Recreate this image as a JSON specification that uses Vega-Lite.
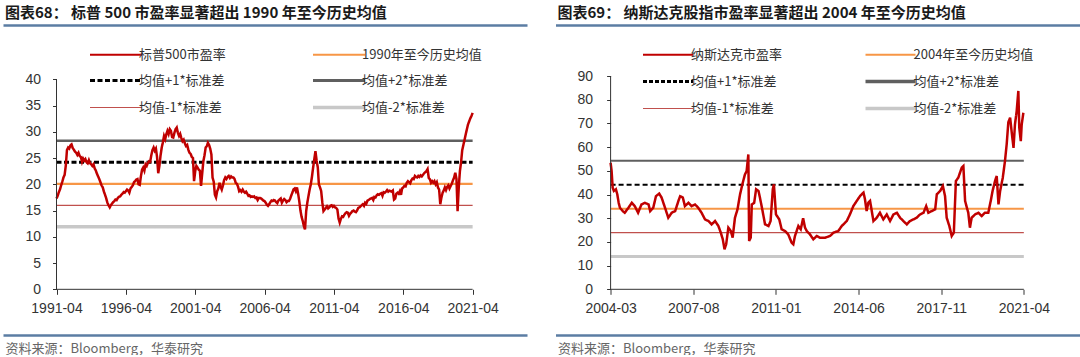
{
  "$schema": "https://vega.github.io/schema/vega-lite/v6.json",
  "padding": {"left": 3, "top": 6, "right": 0, "bottom": 0},
  "background": "white",
  "config": {
    "view": {"stroke": null},
    "font": "Liberation Sans",
    "concat": {"spacing": 28.5},
    "axisY": {"labelOverlap": false},
    "axisX": {"labelOverlap": false}
  },
  "resolve": {
    "scale": {"color": "independent", "strokeDash": "independent", "strokeWidth": "independent"},
    "legend": {"color": "independent"}
  },
  "datasets": {
    "sph": [
      {"d":"1991-04","s":"1990年至今历史均值","v":20.1},{"d":"2021-04","s":"1990年至今历史均值","v":20.1},
      {"d":"1991-04","s":"均值+1*标准差","v":24.2},{"d":"2021-04","s":"均值+1*标准差","v":24.2},
      {"d":"1991-04","s":"均值+2*标准差","v":28.3},{"d":"2021-04","s":"均值+2*标准差","v":28.3},
      {"d":"1991-04","s":"均值-1*标准差","v":16.0},{"d":"2021-04","s":"均值-1*标准差","v":16.0},
      {"d":"1991-04","s":"均值-2*标准差","v":11.9},{"d":"2021-04","s":"均值-2*标准差","v":11.9}
    ],
    "nqh": [
      {"d":"2004-03","s":"2004年至今历史均值","v":34.0},{"d":"2021-04","s":"2004年至今历史均值","v":34.0},
      {"d":"2004-03","s":"均值+1*标准差","v":44.1},{"d":"2021-04","s":"均值+1*标准差","v":44.1},
      {"d":"2004-03","s":"均值+2*标准差","v":54.2},{"d":"2021-04","s":"均值+2*标准差","v":54.2},
      {"d":"2004-03","s":"均值-1*标准差","v":23.9},{"d":"2021-04","s":"均值-1*标准差","v":23.9},
      {"d":"2004-03","s":"均值-2*标准差","v":13.8},{"d":"2021-04","s":"均值-2*标准差","v":13.8}
    ],
    "sp": [
      {"d":"1991-04","s":"标普500市盈率","v":17.3},{"d":"1991-05","s":"标普500市盈率","v":17.8},{"d":"1991-06","s":"标普500市盈率","v":18.5},{"d":"1991-07","s":"标普500市盈率","v":19.0},{"d":"1991-08","s":"标普500市盈率","v":19.8},{"d":"1991-09","s":"标普500市盈率","v":20.5},{"d":"1991-10","s":"标普500市盈率","v":21.3},{"d":"1991-11","s":"标普500市盈率","v":21.8},{"d":"1991-12","s":"标普500市盈率","v":23.5},
      {"d":"1992-01","s":"标普500市盈率","v":26.5},{"d":"1992-02","s":"标普500市盈率","v":27.0},{"d":"1992-03","s":"标普500市盈率","v":26.8},{"d":"1992-04","s":"标普500市盈率","v":27.4},{"d":"1992-05","s":"标普500市盈率","v":27.6},{"d":"1992-06","s":"标普500市盈率","v":26.9},{"d":"1992-07","s":"标普500市盈率","v":26.6},{"d":"1992-08","s":"标普500市盈率","v":26.2},{"d":"1992-09","s":"标普500市盈率","v":26.0},{"d":"1992-10","s":"标普500市盈率","v":25.6},{"d":"1992-11","s":"标普500市盈率","v":26.0},{"d":"1992-12","s":"标普500市盈率","v":25.4},
      {"d":"1993-01","s":"标普500市盈率","v":25.2},{"d":"1993-02","s":"标普500市盈率","v":24.3},{"d":"1993-03","s":"标普500市盈率","v":24.9},{"d":"1993-04","s":"标普500市盈率","v":24.5},{"d":"1993-05","s":"标普500市盈率","v":24.8},{"d":"1993-06","s":"标普500市盈率","v":24.2},{"d":"1993-07","s":"标普500市盈率","v":24.0},{"d":"1993-08","s":"标普500市盈率","v":24.6},{"d":"1993-09","s":"标普500市盈率","v":24.0},{"d":"1993-10","s":"标普500市盈率","v":23.8},{"d":"1993-11","s":"标普500市盈率","v":23.5},{"d":"1993-12","s":"标普500市盈率","v":23.8},
      {"d":"1994-01","s":"标普500市盈率","v":23.0},{"d":"1994-02","s":"标普500市盈率","v":22.6},{"d":"1994-03","s":"标普500市盈率","v":22.0},{"d":"1994-04","s":"标普500市盈率","v":21.5},{"d":"1994-05","s":"标普500市盈率","v":21.0},{"d":"1994-06","s":"标普500市盈率","v":20.4},{"d":"1994-07","s":"标普500市盈率","v":19.8},{"d":"1994-08","s":"标普500市盈率","v":19.4},{"d":"1994-09","s":"标普500市盈率","v":18.6},{"d":"1994-10","s":"标普500市盈率","v":18.0},{"d":"1994-11","s":"标普500市盈率","v":17.3},{"d":"1994-12","s":"标普500市盈率","v":16.5},
      {"d":"1995-01","s":"标普500市盈率","v":16.0},{"d":"1995-02","s":"标普500市盈率","v":15.6},{"d":"1995-03","s":"标普500市盈率","v":16.0},{"d":"1995-04","s":"标普500市盈率","v":16.3},{"d":"1995-05","s":"标普500市盈率","v":16.6},{"d":"1995-06","s":"标普500市盈率","v":16.8},{"d":"1995-07","s":"标普500市盈率","v":17.1},{"d":"1995-08","s":"标普500市盈率","v":17.0},{"d":"1995-09","s":"标普500市盈率","v":17.4},{"d":"1995-10","s":"标普500市盈率","v":17.6},{"d":"1995-11","s":"标普500市盈率","v":17.7},{"d":"1995-12","s":"标普500市盈率","v":18.0},
      {"d":"1996-01","s":"标普500市盈率","v":18.2},{"d":"1996-02","s":"标普500市盈率","v":18.5},{"d":"1996-03","s":"标普500市盈率","v":18.4},{"d":"1996-04","s":"标普500市盈率","v":18.7},{"d":"1996-05","s":"标普500市盈率","v":19.0},{"d":"1996-06","s":"标普500市盈率","v":18.8},{"d":"1996-07","s":"标普500市盈率","v":18.4},{"d":"1996-08","s":"标普500市盈率","v":19.2},{"d":"1996-09","s":"标普500市盈率","v":19.5},{"d":"1996-10","s":"标普500市盈率","v":19.8},{"d":"1996-11","s":"标普500市盈率","v":20.4},{"d":"1996-12","s":"标普500市盈率","v":20.6},
      {"d":"1997-01","s":"标普500市盈率","v":20.9},{"d":"1997-02","s":"标普500市盈率","v":21.0},{"d":"1997-03","s":"标普500市盈率","v":20.0},{"d":"1997-04","s":"标普500市盈率","v":19.9},{"d":"1997-05","s":"标普500市盈率","v":21.5},{"d":"1997-06","s":"标普500市盈率","v":22.8},{"d":"1997-07","s":"标普500市盈率","v":23.2},{"d":"1997-08","s":"标普500市盈率","v":22.6},{"d":"1997-09","s":"标普500市盈率","v":23.8},{"d":"1997-10","s":"标普500市盈率","v":23.5},{"d":"1997-11","s":"标普500市盈率","v":24.1},{"d":"1997-12","s":"标普500市盈率","v":24.4},
      {"d":"1998-01","s":"标普500市盈率","v":24.3},{"d":"1998-02","s":"标普500市盈率","v":25.6},{"d":"1998-03","s":"标普500市盈率","v":26.5},{"d":"1998-04","s":"标普500市盈率","v":27.0},{"d":"1998-05","s":"标普500市盈率","v":26.4},{"d":"1998-06","s":"标普500市盈率","v":26.8},{"d":"1998-07","s":"标普500市盈率","v":25.2},{"d":"1998-08","s":"标普500市盈率","v":22.1},{"d":"1998-09","s":"标普500市盈率","v":23.5},{"d":"1998-10","s":"标普500市盈率","v":25.5},{"d":"1998-11","s":"标普500市盈率","v":27.0},{"d":"1998-12","s":"标普500市盈率","v":28.0},
      {"d":"1999-01","s":"标普500市盈率","v":29.2},{"d":"1999-02","s":"标普500市盈率","v":28.6},{"d":"1999-03","s":"标普500市盈率","v":29.5},{"d":"1999-04","s":"标普500市盈率","v":30.2},{"d":"1999-05","s":"标普500市盈率","v":29.6},{"d":"1999-06","s":"标普500市盈率","v":30.5},{"d":"1999-07","s":"标普500市盈率","v":30.2},{"d":"1999-08","s":"标普500市盈率","v":29.0},{"d":"1999-09","s":"标普500市盈率","v":28.9},{"d":"1999-10","s":"标普500市盈率","v":29.8},{"d":"1999-11","s":"标普500市盈率","v":30.5},{"d":"1999-12","s":"标普500市盈率","v":30.8},
      {"d":"2000-01","s":"标普500市盈率","v":29.8},{"d":"2000-02","s":"标普500市盈率","v":29.2},{"d":"2000-03","s":"标普500市盈率","v":29.6},{"d":"2000-04","s":"标普500市盈率","v":28.8},{"d":"2000-05","s":"标普500市盈率","v":28.2},{"d":"2000-06","s":"标普500市盈率","v":28.5},{"d":"2000-07","s":"标普500市盈率","v":27.8},{"d":"2000-08","s":"标普500市盈率","v":27.3},{"d":"2000-09","s":"标普500市盈率","v":27.5},{"d":"2000-10","s":"标普500市盈率","v":26.6},{"d":"2000-11","s":"标普500市盈率","v":26.0},{"d":"2000-12","s":"标普500市盈率","v":25.8},
      {"d":"2001-01","s":"标普500市盈率","v":25.2},{"d":"2001-02","s":"标普500市盈率","v":25.0},{"d":"2001-03","s":"标普500市盈率","v":20.6},{"d":"2001-04","s":"标普500市盈率","v":22.5},{"d":"2001-05","s":"标普500市盈率","v":23.5},{"d":"2001-06","s":"标普500市盈率","v":23.2},{"d":"2001-07","s":"标普500市盈率","v":22.8},{"d":"2001-08","s":"标普500市盈率","v":22.6},{"d":"2001-09","s":"标普500市盈率","v":19.7},{"d":"2001-10","s":"标普500市盈率","v":22.0},{"d":"2001-11","s":"标普500市盈率","v":24.4},{"d":"2001-12","s":"标普500市盈率","v":25.5},
      {"d":"2002-01","s":"标普500市盈率","v":27.0},{"d":"2002-02","s":"标普500市盈率","v":27.3},{"d":"2002-03","s":"标普500市盈率","v":27.9},{"d":"2002-04","s":"标普500市盈率","v":27.5},{"d":"2002-05","s":"标普500市盈率","v":26.8},{"d":"2002-06","s":"标普500市盈率","v":25.7},{"d":"2002-07","s":"标普500市盈率","v":21.3},{"d":"2002-08","s":"标普500市盈率","v":20.5},{"d":"2002-09","s":"标普500市盈率","v":18.0},{"d":"2002-10","s":"标普500市盈率","v":17.5},{"d":"2002-11","s":"标普500市盈率","v":18.7},{"d":"2002-12","s":"标普500市盈率","v":19.2},
      {"d":"2003-01","s":"标普500市盈率","v":20.3},{"d":"2003-02","s":"标普500市盈率","v":19.5},{"d":"2003-03","s":"标普500市盈率","v":19.0},{"d":"2003-04","s":"标普500市盈率","v":19.8},{"d":"2003-05","s":"标普500市盈率","v":20.8},{"d":"2003-06","s":"标普500市盈率","v":21.3},{"d":"2003-07","s":"标普500市盈率","v":21.0},{"d":"2003-08","s":"标普500市盈率","v":21.4},{"d":"2003-09","s":"标普500市盈率","v":21.6},{"d":"2003-10","s":"标普500市盈率","v":21.2},{"d":"2003-11","s":"标普500市盈率","v":21.5},{"d":"2003-12","s":"标普500市盈率","v":21.3},
      {"d":"2004-01","s":"标普500市盈率","v":21.3},{"d":"2004-02","s":"标普500市盈率","v":21.0},{"d":"2004-03","s":"标普500市盈率","v":20.3},{"d":"2004-04","s":"标普500市盈率","v":20.1},{"d":"2004-05","s":"标普500市盈率","v":19.6},{"d":"2004-06","s":"标普500市盈率","v":18.7},{"d":"2004-07","s":"标普500市盈率","v":18.9},{"d":"2004-08","s":"标普500市盈率","v":18.6},{"d":"2004-09","s":"标普500市盈率","v":19.0},{"d":"2004-10","s":"标普500市盈率","v":18.6},{"d":"2004-11","s":"标普500市盈率","v":18.4},{"d":"2004-12","s":"标普500市盈率","v":18.6},
      {"d":"2005-01","s":"标普500市盈率","v":18.2},{"d":"2005-02","s":"标普500市盈率","v":17.8},{"d":"2005-03","s":"标普500市盈率","v":17.9},{"d":"2005-04","s":"标普500市盈率","v":17.6},{"d":"2005-05","s":"标普500市盈率","v":17.7},{"d":"2005-06","s":"标普500市盈率","v":17.6},{"d":"2005-07","s":"标普500市盈率","v":17.7},{"d":"2005-08","s":"标普500市盈率","v":17.4},{"d":"2005-09","s":"标普500市盈率","v":17.5},{"d":"2005-10","s":"标普500市盈率","v":17.0},{"d":"2005-11","s":"标普500市盈率","v":17.4},{"d":"2005-12","s":"标普500市盈率","v":17.4},
      {"d":"2006-01","s":"标普500市盈率","v":17.3},{"d":"2006-02","s":"标普500市盈率","v":17.1},{"d":"2006-03","s":"标普500市盈率","v":16.9},{"d":"2006-04","s":"标普500市盈率","v":16.8},{"d":"2006-05","s":"标普500市盈率","v":16.5},{"d":"2006-06","s":"标普500市盈率","v":16.1},{"d":"2006-07","s":"标普500市盈率","v":15.9},{"d":"2006-08","s":"标普500市盈率","v":16.2},{"d":"2006-09","s":"标普500市盈率","v":16.6},{"d":"2006-10","s":"标普500市盈率","v":16.9},{"d":"2006-11","s":"标普500市盈率","v":16.8},{"d":"2006-12","s":"标普500市盈率","v":17.0},
      {"d":"2007-01","s":"标普500市盈率","v":16.9},{"d":"2007-02","s":"标普500市盈率","v":16.6},{"d":"2007-03","s":"标普500市盈率","v":16.4},{"d":"2007-04","s":"标普500市盈率","v":16.9},{"d":"2007-05","s":"标普500市盈率","v":17.1},{"d":"2007-06","s":"标普500市盈率","v":17.3},{"d":"2007-07","s":"标普500市盈率","v":16.5},{"d":"2007-08","s":"标普500市盈率","v":16.9},{"d":"2007-09","s":"标普500市盈率","v":17.2},{"d":"2007-10","s":"标普500市盈率","v":17.0},{"d":"2007-11","s":"标普500市盈率","v":16.6},{"d":"2007-12","s":"标普500市盈率","v":16.8},
      {"d":"2008-01","s":"标普500市盈率","v":16.8},{"d":"2008-02","s":"标普500市盈率","v":17.2},{"d":"2008-03","s":"标普500市盈率","v":17.8},{"d":"2008-04","s":"标普500市盈率","v":18.4},{"d":"2008-05","s":"标普500市盈率","v":19.0},{"d":"2008-06","s":"标普500市盈率","v":19.2},{"d":"2008-07","s":"标普500市盈率","v":18.7},{"d":"2008-08","s":"标普500市盈率","v":19.4},{"d":"2008-09","s":"标普500市盈率","v":18.2},{"d":"2008-10","s":"标普500市盈率","v":16.8},{"d":"2008-11","s":"标普500市盈率","v":15.0},{"d":"2008-12","s":"标普500市盈率","v":13.8},
      {"d":"2009-01","s":"标普500市盈率","v":13.0},{"d":"2009-02","s":"标普500市盈率","v":12.0},{"d":"2009-03","s":"标普500市盈率","v":11.4},{"d":"2009-04","s":"标普500市盈率","v":14.9},{"d":"2009-05","s":"标普500市盈率","v":16.5},{"d":"2009-06","s":"标普500市盈率","v":17.8},{"d":"2009-07","s":"标普500市盈率","v":19.0},{"d":"2009-08","s":"标普500市盈率","v":20.0},{"d":"2009-09","s":"标普500市盈率","v":21.5},{"d":"2009-10","s":"标普500市盈率","v":23.2},{"d":"2009-11","s":"标普500市盈率","v":24.8},{"d":"2009-12","s":"标普500市盈率","v":26.3},
      {"d":"2010-01","s":"标普500市盈率","v":24.5},{"d":"2010-02","s":"标普500市盈率","v":23.2},{"d":"2010-03","s":"标普500市盈率","v":20.0},{"d":"2010-04","s":"标普500市盈率","v":19.4},{"d":"2010-05","s":"标普500市盈率","v":18.7},{"d":"2010-06","s":"标普500市盈率","v":16.5},{"d":"2010-07","s":"标普500市盈率","v":14.9},{"d":"2010-08","s":"标普500市盈率","v":15.2},{"d":"2010-09","s":"标普500市盈率","v":15.5},{"d":"2010-10","s":"标普500市盈率","v":15.8},{"d":"2010-11","s":"标普500市盈率","v":15.4},{"d":"2010-12","s":"标普500市盈率","v":15.6},
      {"d":"2011-01","s":"标普500市盈率","v":15.9},{"d":"2011-02","s":"标普500市盈率","v":16.0},{"d":"2011-03","s":"标普500市盈率","v":15.7},{"d":"2011-04","s":"标普500市盈率","v":15.9},{"d":"2011-05","s":"标普500市盈率","v":15.6},{"d":"2011-06","s":"标普500市盈率","v":15.5},{"d":"2011-07","s":"标普500市盈率","v":15.2},{"d":"2011-08","s":"标普500市盈率","v":13.5},{"d":"2011-09","s":"标普500市盈率","v":12.7},{"d":"2011-10","s":"标普500市盈率","v":13.4},{"d":"2011-11","s":"标普500市盈率","v":13.9},{"d":"2011-12","s":"标普500市盈率","v":13.8},
      {"d":"2012-01","s":"标普500市盈率","v":14.2},{"d":"2012-02","s":"标普500市盈率","v":14.5},{"d":"2012-03","s":"标普500市盈率","v":14.7},{"d":"2012-04","s":"标普500市盈率","v":14.6},{"d":"2012-05","s":"标普500市盈率","v":14.0},{"d":"2012-06","s":"标普500市盈率","v":14.4},{"d":"2012-07","s":"标普500市盈率","v":14.6},{"d":"2012-08","s":"标普500市盈率","v":14.9},{"d":"2012-09","s":"标普500市盈率","v":15.0},{"d":"2012-10","s":"标普500市盈率","v":14.8},{"d":"2012-11","s":"标普500市盈率","v":14.7},{"d":"2012-12","s":"标普500市盈率","v":15.0},
      {"d":"2013-01","s":"标普500市盈率","v":15.5},{"d":"2013-02","s":"标普500市盈率","v":15.6},{"d":"2013-03","s":"标普500市盈率","v":15.8},{"d":"2013-04","s":"标普500市盈率","v":16.0},{"d":"2013-05","s":"标普500市盈率","v":16.2},{"d":"2013-06","s":"标普500市盈率","v":15.9},{"d":"2013-07","s":"标普500市盈率","v":16.5},{"d":"2013-08","s":"标普500市盈率","v":16.3},{"d":"2013-09","s":"标普500市盈率","v":16.9},{"d":"2013-10","s":"标普500市盈率","v":17.0},{"d":"2013-11","s":"标普500市盈率","v":17.2},{"d":"2013-12","s":"标普500市盈率","v":17.3},
      {"d":"2014-01","s":"标普500市盈率","v":17.4},{"d":"2014-02","s":"标普500市盈率","v":17.0},{"d":"2014-03","s":"标普500市盈率","v":17.6},{"d":"2014-04","s":"标普500市盈率","v":17.5},{"d":"2014-05","s":"标普500市盈率","v":17.9},{"d":"2014-06","s":"标普500市盈率","v":18.1},{"d":"2014-07","s":"标普500市盈率","v":18.0},{"d":"2014-08","s":"标普500市盈率","v":18.2},{"d":"2014-09","s":"标普500市盈率","v":18.3},{"d":"2014-10","s":"标普500市盈率","v":17.8},{"d":"2014-11","s":"标普500市盈率","v":18.5},{"d":"2014-12","s":"标普500市盈率","v":18.4},
      {"d":"2015-01","s":"标普500市盈率","v":18.6},{"d":"2015-02","s":"标普500市盈率","v":18.9},{"d":"2015-03","s":"标普500市盈率","v":18.6},{"d":"2015-04","s":"标普500市盈率","v":18.8},{"d":"2015-05","s":"标普500市盈率","v":18.7},{"d":"2015-06","s":"标普500市盈率","v":18.6},{"d":"2015-07","s":"标普500市盈率","v":18.8},{"d":"2015-08","s":"标普500市盈率","v":17.1},{"d":"2015-09","s":"标普500市盈率","v":17.3},{"d":"2015-10","s":"标普500市盈率","v":18.2},{"d":"2015-11","s":"标普500市盈率","v":18.4},{"d":"2015-12","s":"标普500市盈率","v":18.2},
      {"d":"2016-01","s":"标普500市盈率","v":18.7},{"d":"2016-02","s":"标普500市盈率","v":18.0},{"d":"2016-03","s":"标普500市盈率","v":19.2},{"d":"2016-04","s":"标普500市盈率","v":19.4},{"d":"2016-05","s":"标普500市盈率","v":19.7},{"d":"2016-06","s":"标普500市盈率","v":19.6},{"d":"2016-07","s":"标普500市盈率","v":20.3},{"d":"2016-08","s":"标普500市盈率","v":20.6},{"d":"2016-09","s":"标普500市盈率","v":20.4},{"d":"2016-10","s":"标普500市盈率","v":20.2},{"d":"2016-11","s":"标普500市盈率","v":20.8},{"d":"2016-12","s":"标普500市盈率","v":21.1},
      {"d":"2017-01","s":"标普500市盈率","v":21.0},{"d":"2017-02","s":"标普500市盈率","v":21.6},{"d":"2017-03","s":"标普500市盈率","v":21.4},{"d":"2017-04","s":"标普500市盈率","v":21.3},{"d":"2017-05","s":"标普500市盈率","v":21.6},{"d":"2017-06","s":"标普500市盈率","v":21.4},{"d":"2017-07","s":"标普500市盈率","v":21.7},{"d":"2017-08","s":"标普500市盈率","v":21.5},{"d":"2017-09","s":"标普500市盈率","v":21.8},{"d":"2017-10","s":"标普500市盈率","v":22.1},{"d":"2017-11","s":"标普500市盈率","v":22.3},{"d":"2017-12","s":"标普500市盈率","v":22.5},
      {"d":"2018-01","s":"标普500市盈率","v":22.9},{"d":"2018-02","s":"标普500市盈率","v":21.2},{"d":"2018-03","s":"标普500市盈率","v":21.0},{"d":"2018-04","s":"标普500市盈率","v":20.3},{"d":"2018-05","s":"标普500市盈率","v":20.6},{"d":"2018-06","s":"标普500市盈率","v":20.3},{"d":"2018-07","s":"标普500市盈率","v":20.6},{"d":"2018-08","s":"标普500市盈率","v":20.0},{"d":"2018-09","s":"标普500市盈率","v":20.4},{"d":"2018-10","s":"标普500市盈率","v":19.4},{"d":"2018-11","s":"标普500市盈率","v":19.0},{"d":"2018-12","s":"标普500市盈率","v":16.2},
      {"d":"2019-01","s":"标普500市盈率","v":17.5},{"d":"2019-02","s":"标普500市盈率","v":18.4},{"d":"2019-03","s":"标普500市盈率","v":18.8},{"d":"2019-04","s":"标普500市盈率","v":19.4},{"d":"2019-05","s":"标普500市盈率","v":18.9},{"d":"2019-06","s":"标普500市盈率","v":19.5},{"d":"2019-07","s":"标普500市盈率","v":19.8},{"d":"2019-08","s":"标普500市盈率","v":19.2},{"d":"2019-09","s":"标普500市盈率","v":19.7},{"d":"2019-10","s":"标普500市盈率","v":20.1},{"d":"2019-11","s":"标普500市盈率","v":20.8},{"d":"2019-12","s":"标普500市盈率","v":21.3},
      {"d":"2020-01","s":"标普500市盈率","v":22.2},{"d":"2020-02","s":"标普500市盈率","v":21.0},{"d":"2020-03","s":"标普500市盈率","v":14.9},{"d":"2020-04","s":"标普500市盈率","v":19.4},{"d":"2020-05","s":"标普500市盈率","v":22.5},{"d":"2020-06","s":"标普500市盈率","v":24.2},{"d":"2020-07","s":"标普500市盈率","v":26.5},{"d":"2020-08","s":"标普500市盈率","v":27.5},{"d":"2020-09","s":"标普500市盈率","v":28.5},{"d":"2020-10","s":"标普500市盈率","v":29.5},{"d":"2020-11","s":"标普500市盈率","v":30.5},{"d":"2020-12","s":"标普500市盈率","v":31.4},
      {"d":"2021-01","s":"标普500市盈率","v":32.0},{"d":"2021-02","s":"标普500市盈率","v":32.6},{"d":"2021-03","s":"标普500市盈率","v":33.0},{"d":"2021-04","s":"标普500市盈率","v":33.6}
    ],
    "nq": [
      {"d":"2004-03-01","s":"纳斯达克市盈率","v":53.4},{"d":"2004-03-16","s":"纳斯达克市盈率","v":50.0},{"d":"2004-04-01","s":"纳斯达克市盈率","v":42.9},{"d":"2004-04-20","s":"纳斯达克市盈率","v":41.5},{"d":"2004-05-20","s":"纳斯达克市盈率","v":42.2},{"d":"2004-06-10","s":"纳斯达克市盈率","v":40.1},{"d":"2004-07-01","s":"纳斯达克市盈率","v":36.5},{"d":"2004-07-20","s":"纳斯达克市盈率","v":34.4},{"d":"2004-09-01","s":"纳斯达克市盈率","v":33.0},{"d":"2004-10-01","s":"纳斯达克市盈率","v":32.3},{"d":"2004-11-25","s":"纳斯达克市盈率","v":34.4},
      {"d":"2005-01-15","s":"纳斯达克市盈率","v":36.5},{"d":"2005-03-01","s":"纳斯达克市盈率","v":35.1},{"d":"2005-04-20","s":"纳斯达克市盈率","v":32.3},{"d":"2005-06-10","s":"纳斯达克市盈率","v":35.8},{"d":"2005-08-01","s":"纳斯达克市盈率","v":36.5},{"d":"2005-09-25","s":"纳斯达克市盈率","v":35.8},{"d":"2005-10-20","s":"纳斯达克市盈率","v":33.0},{"d":"2005-12-05","s":"纳斯达克市盈率","v":34.4},
      {"d":"2006-01-15","s":"纳斯达克市盈率","v":39.3},{"d":"2006-03-05","s":"纳斯达克市盈率","v":40.4},{"d":"2006-04-10","s":"纳斯达克市盈率","v":38.7},{"d":"2006-06-01","s":"纳斯达克市盈率","v":34.4},{"d":"2006-07-20","s":"纳斯达克市盈率","v":30.2},{"d":"2006-09-10","s":"纳斯达克市盈率","v":32.3},{"d":"2006-11-01","s":"纳斯达克市盈率","v":33.0},{"d":"2006-12-20","s":"纳斯达克市盈率","v":37.3},
      {"d":"2007-01-15","s":"纳斯达克市盈率","v":39.3},{"d":"2007-02-25","s":"纳斯达克市盈率","v":38.7},{"d":"2007-03-28","s":"纳斯达克市盈率","v":35.1},{"d":"2007-05-20","s":"纳斯达克市盈率","v":36.5},{"d":"2007-07-08","s":"纳斯达克市盈率","v":35.1},{"d":"2007-08-28","s":"纳斯达克市盈率","v":35.8},{"d":"2007-10-15","s":"纳斯达克市盈率","v":34.4},{"d":"2007-12-05","s":"纳斯达克市盈率","v":32.3},
      {"d":"2008-01-25","s":"纳斯达克市盈率","v":29.5},{"d":"2008-03-18","s":"纳斯达克市盈率","v":28.8},{"d":"2008-05-05","s":"纳斯达克市盈率","v":27.4},{"d":"2008-06-25","s":"纳斯达克市盈率","v":28.8},{"d":"2008-08-15","s":"纳斯达克市盈率","v":26.7},{"d":"2008-09-20","s":"纳斯达克市盈率","v":23.9},{"d":"2008-10-20","s":"纳斯达克市盈率","v":21.1},{"d":"2008-11-15","s":"纳斯达克市盈率","v":16.9},{"d":"2008-12-10","s":"纳斯达克市盈率","v":19.0},
      {"d":"2009-01-12","s":"纳斯达克市盈率","v":26.0},{"d":"2009-02-18","s":"纳斯达克市盈率","v":24.6},{"d":"2009-03-18","s":"纳斯达克市盈率","v":21.8},{"d":"2009-04-22","s":"纳斯达克市盈率","v":30.2},{"d":"2009-05-30","s":"纳斯达克市盈率","v":33.7},{"d":"2009-07-08","s":"纳斯达克市盈率","v":40.1},{"d":"2009-08-18","s":"纳斯达克市盈率","v":45.0},{"d":"2009-09-20","s":"纳斯达克市盈率","v":48.5},{"d":"2009-10-15","s":"纳斯达克市盈率","v":49.9},{"d":"2009-11-10","s":"纳斯达克市盈率","v":56.9},{"d":"2009-11-22","s":"纳斯达克市盈率","v":20.4},{"d":"2009-12-16","s":"纳斯达克市盈率","v":21.8},
      {"d":"2010-01-01","s":"纳斯达克市盈率","v":35.8},{"d":"2010-02-06","s":"纳斯达克市盈率","v":36.5},{"d":"2010-03-07","s":"纳斯达克市盈率","v":42.2},{"d":"2010-04-12","s":"纳斯达克市盈率","v":41.5},{"d":"2010-05-04","s":"纳斯达克市盈率","v":38.7},{"d":"2010-06-13","s":"纳斯达克市盈率","v":33.0},{"d":"2010-07-20","s":"纳斯达克市盈率","v":27.4},{"d":"2010-09-10","s":"纳斯达克市盈率","v":26.7},{"d":"2010-10-12","s":"纳斯达克市盈率","v":28.8},{"d":"2010-11-14","s":"纳斯达克市盈率","v":42.2},{"d":"2010-12-01","s":"纳斯达克市盈率","v":44.3},
      {"d":"2011-01-01","s":"纳斯达克市盈率","v":31.6},{"d":"2011-02-20","s":"纳斯达克市盈率","v":29.5},{"d":"2011-03-28","s":"纳斯达克市盈率","v":25.3},{"d":"2011-05-18","s":"纳斯达克市盈率","v":24.6},{"d":"2011-07-05","s":"纳斯达克市盈率","v":23.2},{"d":"2011-08-25","s":"纳斯达克市盈率","v":19.7},{"d":"2011-09-20","s":"纳斯达克市盈率","v":19.0},{"d":"2011-10-15","s":"纳斯达克市盈率","v":22.5},{"d":"2011-12-05","s":"纳斯达克市盈率","v":26.7},
      {"d":"2012-01-10","s":"纳斯达克市盈率","v":25.3},{"d":"2012-02-15","s":"纳斯达克市盈率","v":30.0},{"d":"2012-03-15","s":"纳斯达克市盈率","v":26.0},{"d":"2012-04-10","s":"纳斯达克市盈率","v":24.6},{"d":"2012-05-28","s":"纳斯达克市盈率","v":23.2},{"d":"2012-07-18","s":"纳斯达克市盈率","v":21.1},{"d":"2012-09-08","s":"纳斯达克市盈率","v":22.5},{"d":"2012-10-26","s":"纳斯达克市盈率","v":21.8},
      {"d":"2013-01-12","s":"纳斯达克市盈率","v":21.8},{"d":"2013-03-28","s":"纳斯达克市盈率","v":22.5},{"d":"2013-05-18","s":"纳斯达克市盈率","v":23.9},{"d":"2013-07-30","s":"纳斯达克市盈率","v":24.6},{"d":"2013-09-20","s":"纳斯达克市盈率","v":26.7},{"d":"2013-12-05","s":"纳斯达克市盈率","v":28.8},
      {"d":"2014-01-22","s":"纳斯达克市盈率","v":31.6},{"d":"2014-03-14","s":"纳斯达克市盈率","v":35.1},{"d":"2014-05-05","s":"纳斯达克市盈率","v":37.3},{"d":"2014-06-25","s":"纳斯达克市盈率","v":39.4},{"d":"2014-08-15","s":"纳斯达克市盈率","v":40.8},{"d":"2014-09-06","s":"纳斯达克市盈率","v":38.0},{"d":"2014-10-01","s":"纳斯达克市盈率","v":33.0},{"d":"2014-10-27","s":"纳斯达克市盈率","v":36.6},{"d":"2014-11-22","s":"纳斯达克市盈率","v":37.3},
      {"d":"2015-01-12","s":"纳斯达克市盈率","v":28.8},{"d":"2015-03-03","s":"纳斯达克市盈率","v":30.2},{"d":"2015-04-20","s":"纳斯达克市盈率","v":32.3},{"d":"2015-06-10","s":"纳斯达克市盈率","v":29.5},{"d":"2015-08-01","s":"纳斯达克市盈率","v":31.6},{"d":"2015-09-20","s":"纳斯达克市盈率","v":28.8},{"d":"2015-11-10","s":"纳斯达克市盈率","v":31.6},
      {"d":"2016-01-01","s":"纳斯达克市盈率","v":32.3},{"d":"2016-02-18","s":"纳斯达克市盈率","v":30.2},{"d":"2016-04-08","s":"纳斯达克市盈率","v":28.8},{"d":"2016-05-30","s":"纳斯达克市盈率","v":27.4},{"d":"2016-07-16","s":"纳斯达克市盈率","v":28.8},{"d":"2016-09-06","s":"纳斯达克市盈率","v":29.5},{"d":"2016-10-27","s":"纳斯达克市盈率","v":30.2},{"d":"2016-12-16","s":"纳斯达克市盈率","v":31.6},
      {"d":"2017-02-06","s":"纳斯达克市盈率","v":32.3},{"d":"2017-03-18","s":"纳斯达克市盈率","v":35.1},{"d":"2017-04-20","s":"纳斯达克市盈率","v":32.3},{"d":"2017-06-10","s":"纳斯达克市盈率","v":33.0},{"d":"2017-08-01","s":"纳斯达克市盈率","v":33.7},{"d":"2017-08-26","s":"纳斯达克市盈率","v":40.1},{"d":"2017-10-16","s":"纳斯达克市盈率","v":41.5},{"d":"2017-11-25","s":"纳斯达克市盈率","v":43.6},{"d":"2017-12-28","s":"纳斯达克市盈率","v":39.4},
      {"d":"2018-01-22","s":"纳斯达克市盈率","v":30.2},{"d":"2018-03-03","s":"纳斯达克市盈率","v":26.7},{"d":"2018-04-08","s":"纳斯达克市盈率","v":22.5},{"d":"2018-05-10","s":"纳斯达克市盈率","v":23.9},{"d":"2018-06-10","s":"纳斯达克市盈率","v":45.7},{"d":"2018-07-16","s":"纳斯达克市盈率","v":47.1},{"d":"2018-09-06","s":"纳斯达克市盈率","v":51.3},{"d":"2018-10-01","s":"纳斯达克市盈率","v":52.0},{"d":"2018-10-27","s":"纳斯达克市盈率","v":37.3},{"d":"2018-11-22","s":"纳斯达克市盈率","v":34.5},{"d":"2018-12-14","s":"纳斯达克市盈率","v":32.3},
      {"d":"2019-01-08","s":"纳斯达克市盈率","v":26.0},{"d":"2019-02-03","s":"纳斯达克市盈率","v":30.2},{"d":"2019-03-26","s":"纳斯达克市盈率","v":31.6},{"d":"2019-05-16","s":"纳斯达克市盈率","v":32.3},{"d":"2019-07-05","s":"纳斯达克市盈率","v":30.9},{"d":"2019-08-22","s":"纳斯达克市盈率","v":32.3},{"d":"2019-10-12","s":"纳斯达克市盈率","v":32.3},{"d":"2019-11-18","s":"纳斯达克市盈率","v":37.3},{"d":"2019-12-16","s":"纳斯达克市盈率","v":41.5},
      {"d":"2020-01-22","s":"纳斯达克市盈率","v":45.7},{"d":"2020-02-16","s":"纳斯达克市盈率","v":47.8},{"d":"2020-03-14","s":"纳斯达克市盈率","v":35.8},{"d":"2020-04-08","s":"纳斯达克市盈率","v":41.5},{"d":"2020-05-18","s":"纳斯达克市盈率","v":47.1},{"d":"2020-06-20","s":"纳斯达克市盈率","v":54.1},{"d":"2020-07-16","s":"纳斯达克市盈率","v":61.2},{"d":"2020-08-10","s":"纳斯达克市盈率","v":70.5},{"d":"2020-09-06","s":"纳斯达克市盈率","v":72.4},{"d":"2020-10-01","s":"纳斯达克市盈率","v":66.0},{"d":"2020-10-27","s":"纳斯达克市盈率","v":59.7},{"d":"2020-11-18","s":"纳斯达克市盈率","v":69.6},{"d":"2020-12-14","s":"纳斯达克市盈率","v":75.2},
      {"d":"2021-01-08","s":"纳斯达克市盈率","v":83.7},{"d":"2021-01-22","s":"纳斯达克市盈率","v":68.2},{"d":"2021-02-14","s":"纳斯达克市盈率","v":62.5},{"d":"2021-02-28","s":"纳斯达克市盈率","v":69.6},{"d":"2021-03-25","s":"纳斯达克市盈率","v":74.5}
    ]
  },
  "hconcat": [
    {
      "width": 524,
      "height": 310,
      "title": {"text": "图表68：  标普 500 市盈率显著超出 1990 年至今历史均值", "anchor": "start", "frame": "group", "font": "Noto Sans CJK SC", "fontSize": 15, "fontWeight": "bold", "color": "#1a1a1a", "offset": 3, "dx": 2},
      "layer": [
        {
          "data": {"name": "sph"},
          "mark": {"type": "line"},
          "encoding": {
            "x": {"field": "d", "type": "temporal", "scale": {"domain": [{"year": 1987, "month": 5, "date": 23}, {"year": 2025, "month": 3, "date": 3}]},
              "axis": {"values": [{"year":1991,"month":4},{"year":1996,"month":4},{"year":2001,"month":4},{"year":2006,"month":4},{"year":2011,"month":4},{"year":2016,"month":4},{"year":2021,"month":4}],
                "format": "%Y-%m", "offset": -45.7, "domain": false, "grid": false, "ticks": true, "tickSize": 5, "tickColor": "#333", "tickCount": 30, "labelFont": "Liberation Sans", "labelFontSize": 14, "labelColor": "#333", "labelPadding": 7, "labelFlush": false, "labelOverlap": false,
                "title": "资料来源：Bloomberg，华泰研究", "titleFont": "Noto Sans CJK SC", "titleFontSize": 13, "titleFontWeight": "normal", "titleColor": "#666", "titleX": 2, "titleY": 58.7, "titleAlign": "left", "titleBaseline": "middle", "titleAnchor": "start"}},
            "y": {"field": "v", "type": "quantitative", "scale": {"domain": [-8.7, 50.34], "nice": false, "zero": false},
              "axis": {"values": [-8.69, 0, 5, 10, 15, 20, 25, 30, 35, 40, 50.33], "tickCount": 30, "offset": -53.5, "domain": false, "grid": true, "gridColor": "#5B7DA3", "gridWidth": 2.5,
                "gridOpacity": {"condition": {"test": "datum.value < -1 || datum.value > 45", "value": 1}, "value": 0},
                "tickOpacity": {"condition": {"test": "datum.value < -1 || datum.value > 45", "value": 0}, "value": 1},
                "labelFontSize": {"condition": {"test": "datum.value < -1 || datum.value > 45", "value": 1}, "value": 14},
                "tickSize": 4, "tickColor": "#333", "labelExpr": "datum.value < -1 || datum.value > 45 ? '' : datum.label", "labelOverlap": false,
                "labelFont": "Liberation Sans", "labelColor": "#333", "labelPadding": 12, "title": null}},
            "color": {"field": "s", "type": "nominal", "scale": {"domain": ["标普500市盈率", "均值+1*标准差", "均值-1*标准差", "1990年至今历史均值", "均值+2*标准差", "均值-2*标准差"], "range": ["#C00000", "#000000", "#C0504D", "#F79646", "#5F5F5F", "#C8C8C8"]},
              "legend": {"title": null, "orient": "none", "legendX": 106.5, "legendY": 23, "columns": 2, "symbolType": "stroke", "symbolSize": 2704, "labelFont": "Noto Sans CJK SC", "labelFontSize": 13, "labelColor": "#333", "labelOffset": 16.5, "columnPadding": 79, "rowPadding": 12, "padding": 0, "labelLimit": 300,
                "symbolDash": {"expr": "datum.value === '均值+1*标准差' ? [5, 2.5] : [1, 0]"},
                "symbolStrokeWidth": {"expr": "datum.value === '均值-2*标准差' ? 3.5 : datum.value === '均值+1*标准差' ? 3 : datum.value === '均值+2*标准差' ? 3 : datum.value === '均值-1*标准差' ? 1.2 : 2.2"}}},
            "strokeDash": {"field": "s", "type": "nominal", "legend": null, "scale": {"domain": ["标普500市盈率", "1990年至今历史均值", "均值+1*标准差", "均值+2*标准差", "均值-1*标准差", "均值-2*标准差"], "range": [[1, 0], [1, 0], [5, 2.5], [1, 0], [1, 0], [1, 0]]}},
            "strokeWidth": {"field": "s", "type": "nominal", "legend": null, "scale": {"type": "ordinal", "domain": ["标普500市盈率", "1990年至今历史均值", "均值+1*标准差", "均值+2*标准差", "均值-1*标准差", "均值-2*标准差"], "range": [2, 2.2, 3, 2.5, 1.2, 3.5]}}
          }
        },
        {
          "data": {"name": "sp"},
          "mark": {"type": "line"},
          "encoding": {
            "x": {"field": "d", "type": "temporal"},
            "y": {"field": "v", "type": "quantitative"},
            "color": {"field": "s", "type": "nominal"},
            "strokeDash": {"field": "s", "type": "nominal", "legend": null},
            "strokeWidth": {"field": "s", "type": "nominal", "legend": null}
          }
        },
        {
          "data": {"values": [{}]},
          "mark": {"type": "rule", "color": "#333", "strokeWidth": 1},
          "encoding": {"x": {"datum": {"year": 1991, "month": 4}}, "x2": {"datum": {"year": 2021, "month": 4}}, "y": {"datum": 0}}
        },
        {
          "data": {"values": [{}]},
          "mark": {"type": "rule", "color": "#333", "strokeWidth": 1},
          "encoding": {"x": {"datum": {"year": 1991, "month": 4}}, "y": {"datum": 0}, "y2": {"datum": 40}}
        }
      ]
    },
    {
      "width": 524.5,
      "height": 310,
      "title": {"text": "图表69：  纳斯达克股指市盈率显著超出 2004 年至今历史均值", "anchor": "start", "frame": "group", "font": "Noto Sans CJK SC", "fontSize": 15, "fontWeight": "bold", "color": "#1a1a1a", "offset": 3, "dx": 2},
      "layer": [
        {
          "data": {"name": "nqh"},
          "mark": {"type": "line"},
          "encoding": {
            "x": {"field": "d", "type": "temporal", "scale": {"domain": [{"year": 2001, "month": 11, "date": 20}, {"year": 2023, "month": 7, "date": 28}]},
              "axis": {"values": [{"year":2004,"month":3},{"year":2007,"month":8},{"year":2011,"month":1},{"year":2014,"month":6},{"year":2017,"month":11},{"year":2021,"month":4}],
                "format": "%Y-%m", "offset": -45.7, "domain": false, "grid": false, "ticks": true, "tickSize": 5, "tickColor": "#333", "tickCount": 30, "labelFont": "Liberation Sans", "labelFontSize": 14, "labelColor": "#333", "labelPadding": 7, "labelFlush": false, "labelOverlap": false,
                "title": "资料来源：Bloomberg，华泰研究", "titleFont": "Noto Sans CJK SC", "titleFontSize": 13, "titleFontWeight": "normal", "titleColor": "#666", "titleX": 2, "titleY": 58.7, "titleAlign": "left", "titleBaseline": "middle", "titleAnchor": "start"}},
            "y": {"field": "v", "type": "quantitative", "scale": {"domain": [-19.28, 111.52], "nice": false, "zero": false},
              "axis": {"values": [-19.27, 0, 10, 20, 30, 40, 50, 60, 70, 80, 90, 111.51], "tickCount": 30, "offset": -55.1, "domain": false, "grid": true, "gridColor": "#5B7DA3", "gridWidth": 2.5,
                "gridOpacity": {"condition": {"test": "datum.value < -1 || datum.value > 100", "value": 1}, "value": 0},
                "tickOpacity": {"condition": {"test": "datum.value < -1 || datum.value > 100", "value": 0}, "value": 1},
                "labelFontSize": {"condition": {"test": "datum.value < -1 || datum.value > 100", "value": 1}, "value": 14},
                "tickSize": 4, "tickColor": "#333", "labelExpr": "datum.value < -1 || datum.value > 100 ? '' : datum.label", "labelOverlap": false,
                "labelFont": "Liberation Sans", "labelColor": "#333", "labelPadding": 14, "title": null}},
            "color": {"field": "s", "type": "nominal", "scale": {"domain": ["纳斯达克市盈率", "均值+1*标准差", "均值-1*标准差", "2004年至今历史均值", "均值+2*标准差", "均值-2*标准差"], "range": ["#C00000", "#000000", "#C0504D", "#F79646", "#5F5F5F", "#C8C8C8"]},
              "legend": {"title": null, "orient": "none", "legendX": 106, "legendY": 23, "columns": 2, "symbolType": "stroke", "symbolSize": 2500, "labelFont": "Noto Sans CJK SC", "labelFontSize": 13, "labelColor": "#333", "labelOffset": 16.5, "columnPadding": 75.5, "rowPadding": 12, "padding": 0, "labelLimit": 300,
                "symbolDash": {"expr": "datum.value === '均值+1*标准差' ? [4, 2] : [1, 0]"},
                "symbolStrokeWidth": {"expr": "datum.value === '均值-2*标准差' ? 3.5 : datum.value === '均值+1*标准差' ? 3 : datum.value === '均值+2*标准差' ? 3.5 : datum.value === '均值-1*标准差' ? 1.2 : 2.2"}}},
            "strokeDash": {"field": "s", "type": "nominal", "legend": null, "scale": {"domain": ["纳斯达克市盈率", "2004年至今历史均值", "均值+1*标准差", "均值+2*标准差", "均值-1*标准差", "均值-2*标准差"], "range": [[1, 0], [1, 0], [5, 3], [1, 0], [1, 0], [1, 0]]}},
            "strokeWidth": {"field": "s", "type": "nominal", "legend": null, "scale": {"type": "ordinal", "domain": ["纳斯达克市盈率", "2004年至今历史均值", "均值+1*标准差", "均值+2*标准差", "均值-1*标准差", "均值-2*标准差"], "range": [2, 1.8, 2, 2, 1.2, 3]}}
          }
        },
        {
          "data": {"name": "nq"},
          "mark": {"type": "line"},
          "encoding": {
            "x": {"field": "d", "type": "temporal"},
            "y": {"field": "v", "type": "quantitative"},
            "color": {"field": "s", "type": "nominal"},
            "strokeDash": {"field": "s", "type": "nominal", "legend": null},
            "strokeWidth": {"field": "s", "type": "nominal", "legend": null}
          }
        },
        {
          "data": {"values": [{}]},
          "mark": {"type": "rule", "color": "#333", "strokeWidth": 1},
          "encoding": {"x": {"datum": {"year": 2004, "month": 3}}, "x2": {"datum": {"year": 2021, "month": 4}}, "y": {"datum": 0}}
        },
        {
          "data": {"values": [{}]},
          "mark": {"type": "rule", "color": "#333", "strokeWidth": 1},
          "encoding": {"x": {"datum": {"year": 2004, "month": 3}}, "y": {"datum": 0}, "y2": {"datum": 90}}
        }
      ]
    }
  ]
}
